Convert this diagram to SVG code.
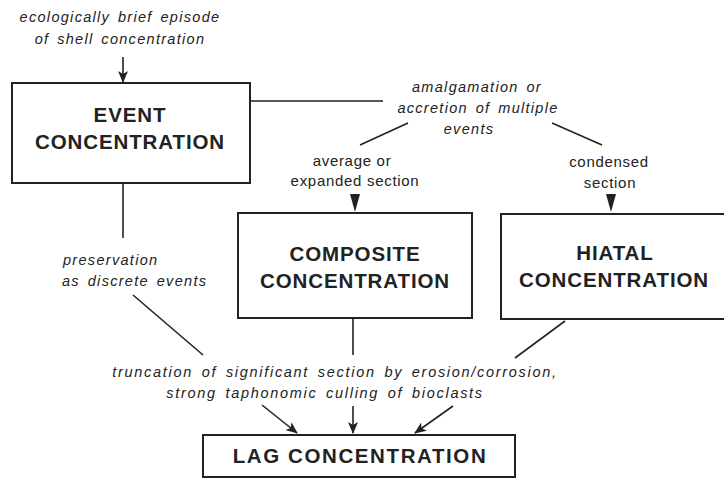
<svg xmlns="http://www.w3.org/2000/svg" width="724" height="480" viewBox="0 0 724 480">
<defs>
<style>
.box{fill:#fff;stroke:#222;stroke-width:2}
.ln{stroke:#222;stroke-width:1.6;fill:none}
.t{font-family:"Liberation Sans",Arial,sans-serif;fill:#222}
.node{font-size:20.5px;font-weight:bold;text-anchor:middle;letter-spacing:0.9px}
.lag{letter-spacing:1.6px}
.it{font-size:14.5px;font-style:italic;letter-spacing:1.3px;word-spacing:2.5px}
.wide{letter-spacing:1.7px;word-spacing:3px}
.up{font-size:15px;text-anchor:middle;letter-spacing:0.7px}
.tri{fill:#222}
</style>
<marker id="barb" viewBox="0 0 12 10" refX="11" refY="5" markerWidth="12" markerHeight="10" markerUnits="userSpaceOnUse" orient="auto">
<path d="M0,0 L12,5 L0,10 L3,5 Z" fill="#222"/>
</marker>
</defs>
<rect x="0" y="0" width="724" height="480" fill="#fff"/>

<g id="connectors">
<line class="ln" x1="123" y1="57" x2="123" y2="82" marker-end="url(#barb)"/>
<line class="ln" x1="250" y1="101" x2="383" y2="101"/>
<line class="ln" x1="408" y1="123" x2="360" y2="145"/>
<line class="ln" x1="552" y1="123" x2="602" y2="145"/>
<path class="tri" d="M350,194 L360,194 L355,212 Z"/>
<path class="tri" d="M606,194 L616,194 L611,212 Z"/>
<line class="ln" x1="123" y1="183" x2="123" y2="238"/>
<line class="ln" x1="133" y1="295" x2="203" y2="355"/>
<line class="ln" x1="353" y1="318" x2="353" y2="355"/>
<line class="ln" x1="565" y1="321" x2="515" y2="358"/>
<line class="ln" x1="262" y1="405" x2="297" y2="433" marker-end="url(#barb)"/>
<line class="ln" x1="353" y1="406" x2="353" y2="433" marker-end="url(#barb)"/>
<line class="ln" x1="453" y1="406" x2="415" y2="433" marker-end="url(#barb)"/>
</g>

<g id="label-brief">
<text class="t it" x="120" y="22" text-anchor="middle">ecologically brief episode</text>
<text class="t it" x="120" y="44" text-anchor="middle">of shell concentration</text>
</g>

<g id="event">
<rect class="box" x="12" y="83" width="238" height="100"/>
<text class="t node" x="130" y="122">EVENT</text>
<text class="t node" x="130" y="149">CONCENTRATION</text>
</g>

<g id="label-amalgamation">
<text class="t it" x="477" y="92" text-anchor="middle">amalgamation or</text>
<text class="t it" x="478" y="113" text-anchor="middle">accretion of multiple</text>
<text class="t it" x="469" y="134" text-anchor="middle">events</text>
</g>

<g id="label-average">
<text class="t up" x="352" y="166">average or</text>
<text class="t up" x="355" y="186">expanded section</text>
</g>

<g id="label-condensed">
<text class="t up" x="609" y="167">condensed</text>
<text class="t up" x="610" y="188">section</text>
</g>

<g id="composite">
<rect class="box" x="238" y="213" width="234" height="105"/>
<text class="t node" x="355" y="261">COMPOSITE</text>
<text class="t node" x="355" y="288">CONCENTRATION</text>
</g>

<g id="hiatal">
<rect class="box" x="501" y="214" width="240" height="105"/>
<text class="t node" x="615" y="260">HIATAL</text>
<text class="t node" x="614" y="287">CONCENTRATION</text>
</g>

<g id="label-preservation">
<text class="t it" x="63" y="265">preservation</text>
<text class="t it" x="62" y="286">as discrete events</text>
</g>

<g id="label-truncation">
<text class="t it wide" x="335" y="377" text-anchor="middle">truncation of significant section by erosion/corrosion,</text>
<text class="t it wide" x="325" y="398" text-anchor="middle">strong taphonomic culling of bioclasts</text>
</g>

<g id="lag">
<rect class="box" x="203" y="435" width="312" height="42"/>
<text class="t node lag" x="360" y="463">LAG CONCENTRATION</text>
</g>
</svg>
